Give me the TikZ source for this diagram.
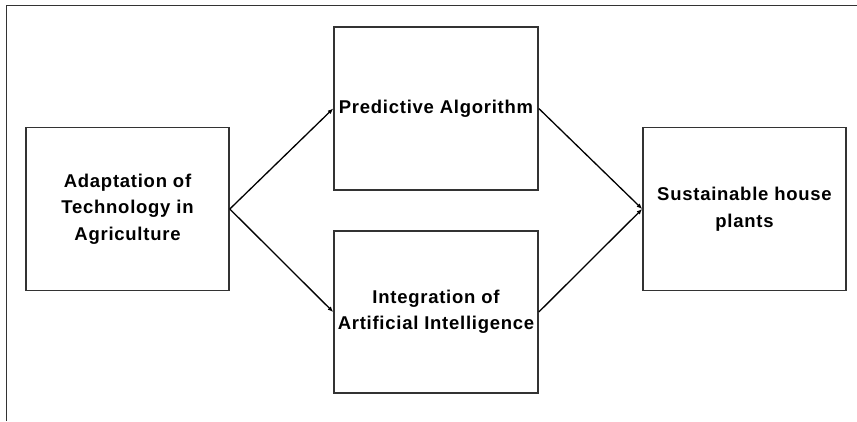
\documentclass[tikz,border=0pt]{standalone}
\usepackage{fontspec}
\setmainfont{Liberation Sans}[LetterSpace=4]
\usetikzlibrary{arrows.meta}
\begin{document}
\begin{tikzpicture}[x=1pt,y=-1pt,
  box/.style={draw=black!80,line width=1.6pt,rectangle,inner sep=0pt,
    minimum width=203pt,minimum height=163pt,align=center,
    font=\fontsize{18.5}{26.5}\selectfont\bfseries},
  conn/.style={line width=1.3pt,-{Latex[length=5.5pt,width=4.5pt]}}]
\useasboundingbox (0,0) rectangle (857,421);
\draw[black!80,line width=1pt] (6,421) -- (6,5) -- (857,5);
\node[box] (a) at (127.5,209) {Adaptation of\\Technology in\\Agriculture};
\node[box,minimum width=204pt] (p) at (436,108.5) {Predictive Algorithm};
\node[box,minimum width=204pt,minimum height=162pt] (i) at (436,312) {Integration of\\Artificial Intelligence};
\node[box] (s) at (744.5,209) {Sustainable house\\plants};
\draw[conn] (a.east) -- (p.west);
\draw[conn] (a.east) -- (i.west);
\draw[conn] (p.east) -- (s.west);
\draw[conn] (i.east) -- (s.west);
\end{tikzpicture}
\end{document}
